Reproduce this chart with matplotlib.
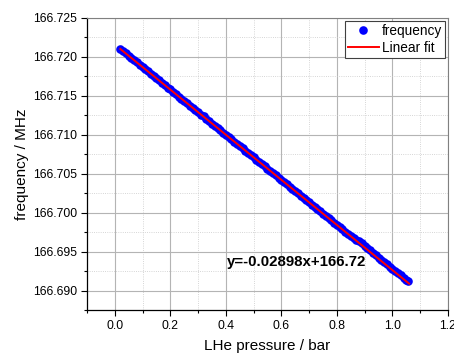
import numpy as np
import matplotlib.pyplot as plt
from matplotlib.ticker import MultipleLocator, FormatStrFormatter

plt.rcParams["font.family"] = ["Liberation Sans", "DejaVu Sans"]

pressure = [0.02, 0.03, 0.04, 0.05, 0.06, 0.07, 0.08, 0.09, 0.10, 0.11,
            0.12, 0.13, 0.14, 0.15, 0.16, 0.17, 0.18, 0.19, 0.20, 0.21,
            0.22, 0.23, 0.24, 0.25, 0.26, 0.27, 0.28, 0.29, 0.30, 0.31,
            0.32, 0.33, 0.34, 0.35, 0.36, 0.37, 0.38, 0.39, 0.40, 0.41,
            0.42, 0.43, 0.44, 0.45, 0.46, 0.47, 0.48, 0.49, 0.50, 0.51,
            0.52, 0.53, 0.54, 0.55, 0.56, 0.57, 0.58, 0.59, 0.60, 0.61,
            0.62, 0.63, 0.64, 0.65, 0.66, 0.67, 0.68, 0.69, 0.70, 0.71,
            0.72, 0.73, 0.74, 0.75, 0.76, 0.77, 0.78, 0.79, 0.80, 0.81,
            0.82, 0.83, 0.84, 0.85, 0.86, 0.87, 0.88, 0.89, 0.90, 0.91,
            0.92, 0.93, 0.94, 0.95, 0.96, 0.97, 0.98, 0.99, 1.00, 1.01,
            1.02, 1.03, 1.04, 1.05, 1.055]
frequency = [166.72106, 166.72075, 166.72048, 166.72013, 166.71988, 166.71955, 166.71930, 166.71897, 166.71872, 166.71840,
             166.71814, 166.71781, 166.71756, 166.71723, 166.71698, 166.71665, 166.71640, 166.71606, 166.71582, 166.71549,
             166.71524, 166.71491, 166.71466, 166.71433, 166.71408, 166.71375, 166.71350, 166.71316, 166.71292, 166.71260,
             166.71235, 166.71202, 166.71177, 166.71144, 166.71119, 166.71086, 166.71061, 166.71028, 166.71003, 166.70970,
             166.70945, 166.70912, 166.70887, 166.70854, 166.70829, 166.70796, 166.70771, 166.70738, 166.70713, 166.70680,
             166.70655, 166.70622, 166.70597, 166.70564, 166.70539, 166.70506, 166.70481, 166.70448, 166.70423, 166.70390,
             166.70365, 166.70332, 166.70307, 166.70274, 166.70249, 166.70216, 166.70191, 166.70158, 166.70133, 166.70100,
             166.70075, 166.70042, 166.70017, 166.69984, 166.69959, 166.69926, 166.69901, 166.69868, 166.69844, 166.69811,
             166.69786, 166.69753, 166.69730, 166.69700, 166.69676, 166.69652, 166.69630, 166.69604, 166.69578, 166.69548,
             166.69518, 166.69486, 166.69456, 166.69424, 166.69396, 166.69366, 166.69338, 166.69308, 166.69280, 166.69250,
             166.69222, 166.69194, 166.69166, 166.69138, 166.69125]

# linear fit coefficients shown on the chart
fit_slope = -0.02898
fit_intercept = 166.7216
fit_label = "y=-0.02898x+166.72"

fig = plt.figure(figsize=(4.54, 3.55), dpi=100)
ax = fig.add_axes([0.1916, 0.1268, 0.7952, 0.8225])

ax.plot(pressure, frequency, "o", color="#0000ff", markersize=6.2,
        markeredgewidth=0, label="frequency", zorder=3)

x_fit = np.array([min(pressure), max(pressure) + 0.005])
ax.plot(x_fit, fit_slope * x_fit + fit_intercept, color="#ff0000",
        linewidth=1.4, label="Linear fit", zorder=4)

ax.set_xlim(-0.1, 1.2)
ax.set_ylim(166.6875, 166.725)
ax.xaxis.set_major_locator(MultipleLocator(0.2))
ax.xaxis.set_minor_locator(MultipleLocator(0.1))
ax.yaxis.set_major_locator(MultipleLocator(0.005))
ax.yaxis.set_minor_locator(MultipleLocator(0.0025))
ax.xaxis.set_major_formatter(FormatStrFormatter("%.1f"))
ax.yaxis.set_major_formatter(FormatStrFormatter("%.3f"))

ax.grid(True, which="major", color="#b4b4b4", linewidth=0.8)
ax.grid(True, which="minor", color="#c8c8c8", linewidth=0.6, linestyle=":")
ax.set_axisbelow(True)

ax.tick_params(which="major", direction="out", length=4, width=0.8,
               labelsize=8.8, colors="black", pad=3)
ax.tick_params(which="minor", direction="out", length=2, width=0.8)
for side in ["top", "right"]:
    ax.spines[side].set_color("#808080")
    ax.spines[side].set_linewidth(0.8)
for side in ["left", "bottom"]:
    ax.spines[side].set_linewidth(0.9)

ax.set_xlabel("LHe pressure / bar", fontsize=11, labelpad=5)
ax.set_ylabel("frequency / MHz", fontsize=11, labelpad=3)

ax.text(0.405, 166.6936, fit_label, fontsize=10.8, fontweight="bold",
        ha="left", va="center")

leg = ax.legend(loc="upper right", fontsize=9.8, fancybox=False,
                framealpha=1, edgecolor="#404040", borderpad=0.2,
                handlelength=2.3, handletextpad=0.2, borderaxespad=0.25,
                labelspacing=0.2, markerscale=1.0)
leg.get_frame().set_linewidth(0.8)

fig.savefig("out.png", dpi=100)
